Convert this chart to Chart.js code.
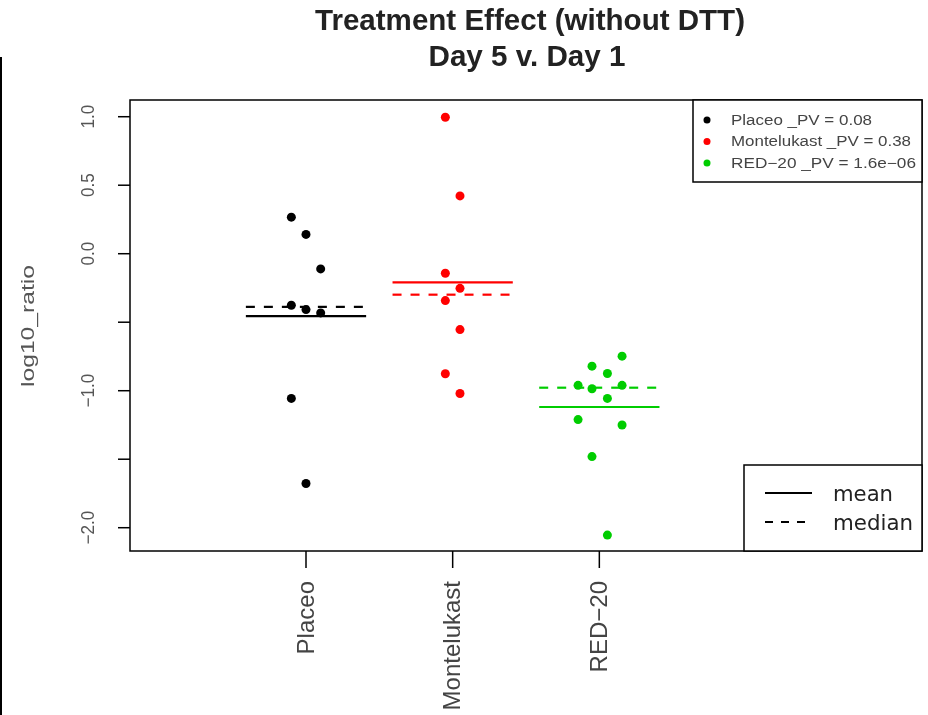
<!DOCTYPE html>
<html>
<head>
<meta charset="utf-8">
<script src="https://cdn.jsdelivr.net/npm/chart.js@4/dist/chart.umd.min.js"></script>
<style>
  html, body { margin: 0; padding: 0; background: #fff; }
  #wrap { width: 928px; height: 715px; position: relative; }
</style>
</head>
<body>
<div id="wrap"><canvas id="chart" width="928" height="715"></canvas></div>
<script>
// Groups on the x axis (positions 1, 2, 3)
const categories = ["Placeo", "Montelukast", "RED\u221220"];
const groupColors = ["#000000", "#ff0000", "#00cd00"];
const pValues = ["0.08", "0.38", "1.6e\u221206"];

// log10 ratios, with the small horizontal jitter of each point
const placeoValues = [0.267, 0.141, -0.111, -0.376, -0.408, -0.432, -1.056, -1.677];
const placeoJitter = [-0.1, 0, 0.1, -0.1, 0, 0.1, -0.1, 0];
const monteValues = [0.996, 0.422, -0.143, -0.253, -0.342, -0.554, -0.876, -1.020];
const monteJitter = [-0.05, 0.05, -0.05, 0.05, -0.05, 0.05, -0.05, 0.05];
const redValues = [-0.748, -0.821, -0.874, -0.961, -0.986, -0.961, -1.056, -1.211, -1.250, -1.481, -2.054];
const redJitter = [0.155, -0.05, 0.055, -0.145, -0.05, 0.155, 0.055, -0.145, 0.155, -0.05, 0.055];

// group summary lines
const groupMeans = [-0.456, -0.209, -1.119];
const groupMedians = [-0.388, -0.299, -0.978];

// y axis ticks (R drops the labels that would overlap)
const yTicks = [-2, -1.5, -1, -0.5, 0, 0.5, 1];
const yTickLabels = ["\u22122.0", "", "\u22121.0", "", "0.0", "0.5", "1.0"];

const groupValues = [placeoValues, monteValues, redValues];
const groupJitter = [placeoJitter, monteJitter, redJitter];
const halfWidth = 0.41;

const datasets = [];
groupValues.forEach((vals, g) => {
  datasets.push({
    type: "scatter",
    label: categories[g],
    data: vals.map((v, i) => ({ x: g + 1 + groupJitter[g][i], y: v })),
    backgroundColor: groupColors[g],
    borderColor: groupColors[g],
    pointRadius: 4.5,
    pointBorderWidth: 0
  });
  datasets.push({
    type: "line",
    label: "mean",
    data: [{ x: g + 1 - halfWidth, y: groupMeans[g] }, { x: g + 1 + halfWidth, y: groupMeans[g] }],
    borderColor: groupColors[g],
    borderWidth: 2.2,
    pointRadius: 0
  });
  datasets.push({
    type: "line",
    label: "median",
    data: [{ x: g + 1 - halfWidth, y: groupMedians[g] }, { x: g + 1 + halfWidth, y: groupMedians[g] }],
    borderColor: groupColors[g],
    borderWidth: 2.2,
    borderDash: [9, 9],
    pointRadius: 0
  });
});

// text squeezed or stretched along its run to a given length
function fitText(ctx, text, x, y, width) {
  const w = ctx.measureText(text).width;
  ctx.save();
  ctx.translate(x, y);
  ctx.scale(width / w, 1);
  ctx.fillText(text, 0, 0);
  ctx.restore();
}

// Draws the R-style frame, axes, title and the two legends
const rDecor = {
  id: "rDecor",
  afterDraw(chart) {
    const ctx = chart.ctx;
    const a = chart.chartArea;
    const xs = chart.scales.x, ys = chart.scales.y;
    ctx.save();

    // stray border on the left of the image
    ctx.fillStyle = "#000";
    ctx.fillRect(0, 57, 2, 658);

    // plot frame
    ctx.strokeStyle = "#000";
    ctx.lineWidth = 1.5;
    ctx.strokeRect(a.left, a.top, a.right - a.left, a.bottom - a.top);

    // y axis ticks and rotated labels
    ctx.fillStyle = "#555";
    ctx.font = "18px 'Liberation Sans', Arial, sans-serif";
    yTicks.forEach((t, i) => {
      const py = ys.getPixelForValue(t);
      ctx.beginPath();
      ctx.moveTo(a.left, py);
      ctx.lineTo(a.left - 12, py);
      ctx.stroke();
      if (yTickLabels[i]) {
        ctx.save();
        ctx.translate(88.5, py);
        ctx.rotate(-Math.PI / 2);
        ctx.textAlign = "center";
        ctx.textBaseline = "middle";
        fitText(ctx, yTickLabels[i], 0, 1, ctx.measureText(yTickLabels[i]).width * 0.95);
        ctx.restore();
      }
    });

    // y axis title
    ctx.save();
    ctx.translate(28.5, 326);
    ctx.rotate(-Math.PI / 2);
    ctx.textAlign = "center";
    ctx.textBaseline = "middle";
    ctx.font = "19px 'Liberation Sans', Arial, sans-serif";
    fitText(ctx, "log10_ratio", 0, 0, 122);
    ctx.restore();

    // x axis ticks and vertical labels
    ctx.fillStyle = "#444";
    ctx.font = "24px 'Liberation Sans', Arial, sans-serif";
    categories.forEach((c, i) => {
      const px = xs.getPixelForValue(i + 1);
      ctx.beginPath();
      ctx.moveTo(px, a.bottom);
      ctx.lineTo(px, a.bottom + 17);
      ctx.stroke();
      ctx.save();
      ctx.translate(px + 1, a.bottom + 30);
      ctx.rotate(-Math.PI / 2);
      ctx.textAlign = "right";
      ctx.textBaseline = "middle";
      ctx.fillText(c, 0, 0);
      ctx.restore();
    });

    // title
    ctx.fillStyle = "#222";
    ctx.font = "bold 30px 'Liberation Sans', Arial, sans-serif";
    ctx.textAlign = "center";
    ctx.textBaseline = "middle";
    fitText(ctx, "Treatment Effect (without DTT)", 530, 22, 430);
    fitText(ctx, "Day 5 v. Day 1", 527, 58, 197);

    // group legend (top right)
    ctx.fillStyle = "#fff";
    ctx.fillRect(693, a.top, a.right - 693, 82);
    ctx.strokeRect(693, a.top, a.right - 693, 82);
    ctx.font = "14px 'Liberation Sans', Arial, sans-serif";
    ctx.textAlign = "left";
    ctx.textBaseline = "middle";
    const legendWidths = [141, 180, 185];
    categories.forEach((c, i) => {
      const ly = 120 + i * 21.5;
      ctx.fillStyle = groupColors[i];
      ctx.beginPath();
      ctx.arc(707, ly, 3.5, 0, Math.PI * 2);
      ctx.fill();
      ctx.fillStyle = "#444";
      fitText(ctx, c + " _PV = " + pValues[i], 731, ly + 1, legendWidths[i]);
    });

    // mean / median legend (bottom right)
    ctx.fillStyle = "#fff";
    ctx.fillRect(744, 465, a.right - 744, a.bottom - 465);
    ctx.strokeRect(744, 465, a.right - 744, a.bottom - 465);
    ctx.strokeStyle = "#000";
    ctx.lineWidth = 2;
    ctx.beginPath();
    ctx.moveTo(765, 493);
    ctx.lineTo(812, 493);
    ctx.stroke();
    ctx.setLineDash([8, 8]);
    ctx.beginPath();
    ctx.moveTo(765, 522);
    ctx.lineTo(812, 522);
    ctx.stroke();
    ctx.setLineDash([]);
    ctx.fillStyle = "#222";
    ctx.font = "21px 'DejaVu Sans', sans-serif";
    ctx.textBaseline = "alphabetic";
    fitText(ctx, "mean", 833, 501, 60);
    fitText(ctx, "median", 833, 530, 80);

    ctx.restore();
  }
};

new Chart(document.getElementById("chart"), {
  type: "scatter",
  data: { datasets: datasets },
  options: {
    responsive: false,
    animation: false,
    layout: { padding: { left: 130, right: 6, top: 100, bottom: 164 } },
    plugins: {
      legend: { display: false },
      tooltip: { enabled: false },
      title: { display: false }
    },
    scales: {
      x: { type: "linear", min: -0.2, max: 5.2, display: false },
      y: { type: "linear", min: -2.17, max: 1.122, display: false }
    }
  },
  plugins: [rDecor]
});
</script>
</body>
</html>
